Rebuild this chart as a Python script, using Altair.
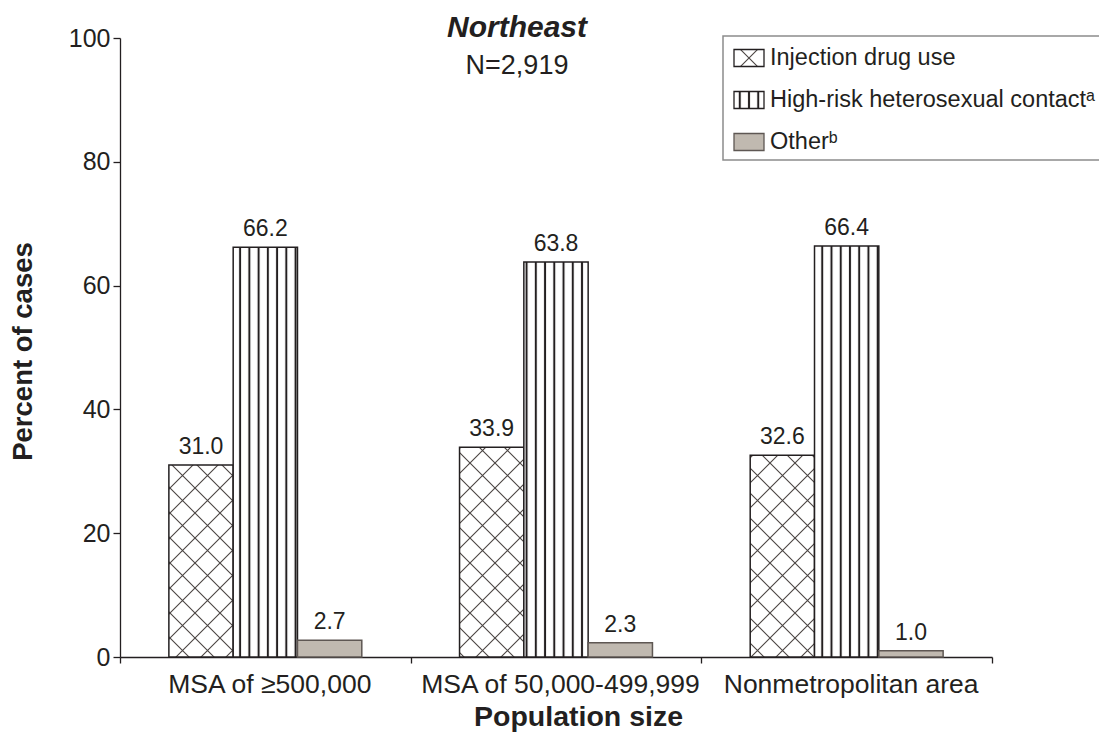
import altair as alt
import pandas as pd
import jinja2

# ---------------- data ----------------
categories = ["MSA of ≥500,000", "MSA of 50,000-499,999", "Nonmetropolitan area"]
series = ["Injection drug use", "High-risk heterosexual contactᵃ", "Otherᵇ"]
injection = [31.0, 33.9, 32.6]
heterosexual = [66.2, 63.8, 66.4]
other = [2.7, 2.3, 1.0]
y_ticks = [0, 20, 40, 60, 80, 100]

rows = []
for s, vals in zip(series, [injection, heterosexual, other]):
    for c, v in zip(categories, vals):
        rows.append({"category": c, "series": s, "value": v})
df = pd.DataFrame(rows)

# ---------------- styles ----------------
INK = "#231f20"
FONT = "Liberation Sans"
fills = ["url(#xhatch)", "url(#vstripe)", "#c0b9b0"]
strokes = [INK, INK, "#5e5753"]

x = alt.X(
    "category:N",
    sort=categories,
    title="Population size",
    scale=alt.Scale(paddingInner=0, paddingOuter=0),
    axis=alt.Axis(
        labelAngle=0, tickBand="extent", tickSize=6, labelPadding=8,
        labelOffset=4,
        labelFontSize=26.5, labelLimit=0, labelOverlap=False, labelColor=INK,
        titleFontSize=28.5, titleFontWeight="bold", titleColor=INK,
        titleX=458, titleY=68, titleBaseline="alphabetic",
        domainColor=INK, tickColor=INK, domainWidth=1.3, tickWidth=1.3,
    ),
)
xo = alt.XOffset("series:N", sort=series,
                 scale=alt.Scale(paddingInner=0, paddingOuter=0.76))
y = alt.Y(
    "value:Q",
    scale=alt.Scale(domain=[0, 100], nice=False),
    axis=alt.Axis(
        values=y_ticks, tickSize=7, labelPadding=3, labelFontSize=25,
        labelColor=INK, grid=False,
        title="Percent of cases", titleFontSize=27.5, titleFontWeight="bold",
        titleColor=INK, titleX=-89, titleY=313, titleBaseline="alphabetic",
        domainColor=INK, tickColor=INK, domainWidth=1.3, tickWidth=1.3,
    ),
)

bars = alt.Chart(df).mark_bar(strokeWidth=1.5).encode(
    x=x,
    xOffset=xo,
    y=y,
    fill=alt.Fill("series:N", sort=series,
                  scale=alt.Scale(domain=series, range=fills),
                  legend=alt.Legend(title=None, orient="none", legendX=603, legendY=-2)),
    stroke=alt.Stroke("series:N", sort=series,
                      scale=alt.Scale(domain=series, range=strokes),
                      legend=alt.Legend(title=None, orient="none", legendX=603, legendY=-2)),
)

labels = alt.Chart(df).mark_text(
    dy=-11, baseline="alphabetic", fontSize=23, color=INK
).encode(
    x=x,
    xOffset=xo,
    y=y,
    text=alt.Text("value:Q", format=".1f"),
)

chart = (
    alt.layer(bars, labels)
    .properties(
        width=872,
        height=619,
        autosize=alt.AutoSizeParams(type="none"),
        padding={"left": 112, "top": 30, "right": 127, "bottom": 78},
        title=alt.TitleParams(
            "Northeast", subtitle="N=2,919", fontSize=30, fontStyle="italic",
            fontWeight="bold", color=INK, subtitleFontSize=27,
            subtitleColor=INK, subtitlePadding=10, anchor="middle",
            frame="group", dx=-39, offset=-53,
        ),
    )
    .configure(font=FONT)
    .configure_view(strokeWidth=0)
    .configure_legend(
        padding=6, symbolOffset=4, rowPadding=14, strokeColor="#8c8c8c",
        strokeWidth=1.5, fillColor="#ffffff",
        symbolType="M-1,-0.567H1V0.567H-1Z",
        symbolSize=900, symbolStrokeWidth=1.3, labelFontSize=23.5,
        labelColor=INK, labelOffset=5, labelLimit=500, symbolOpacity=1,
    )
)

PAGE = jinja2.Template("""<!DOCTYPE html>
<html>
<head>
<meta charset="utf-8">
<style>html, body { overflow: hidden; } body { margin: 8px; }</style>
<script type="text/javascript" src="{{ base_url }}/vega@{{ vega_version }}"></script>
<script type="text/javascript" src="{{ base_url }}/vega-lite@{{ vegalite_version }}"></script>
<script type="text/javascript" src="{{ base_url }}/vega-embed@{{ vegaembed_version }}"></script>
</head>
<body>
<svg width="0" height="0" style="position:absolute;left:0;top:0" aria-hidden="true">
<defs>
<pattern id="xhatch" patternUnits="userSpaceOnUse" width="25" height="25">
<rect width="25" height="25" fill="#ffffff"/>
<path d="M-2,-2L27,27M27,-2L-2,27" stroke="#4a4442" stroke-width="1.1" fill="none"/>
</pattern>
<pattern id="vstripe" patternUnits="userSpaceOnUse" width="9.24" height="20">
<rect width="9.24" height="20" fill="#ffffff"/>
<path d="M0,-1V21M9.24,-1V21" stroke="#231f20" stroke-width="2" fill="none"/>
</pattern>
</defs>
</svg>
<div id="{{ output_div }}"></div>
<script type="text/javascript">
(function(vegaEmbed) {
  var spec = {{ spec }};
  var embedOpt = {{ embed_options }};
  vegaEmbed("#{{ output_div }}", spec, embedOpt).catch(function(err) {
    document.getElementById("{{ output_div }}").innerHTML = "<pre>" + err + "</pre>";
  });
})(vegaEmbed);
</script>
</body>
</html>""")

chart.save("out.html", embed_options={"renderer": "svg", "actions": False}, template=PAGE)
